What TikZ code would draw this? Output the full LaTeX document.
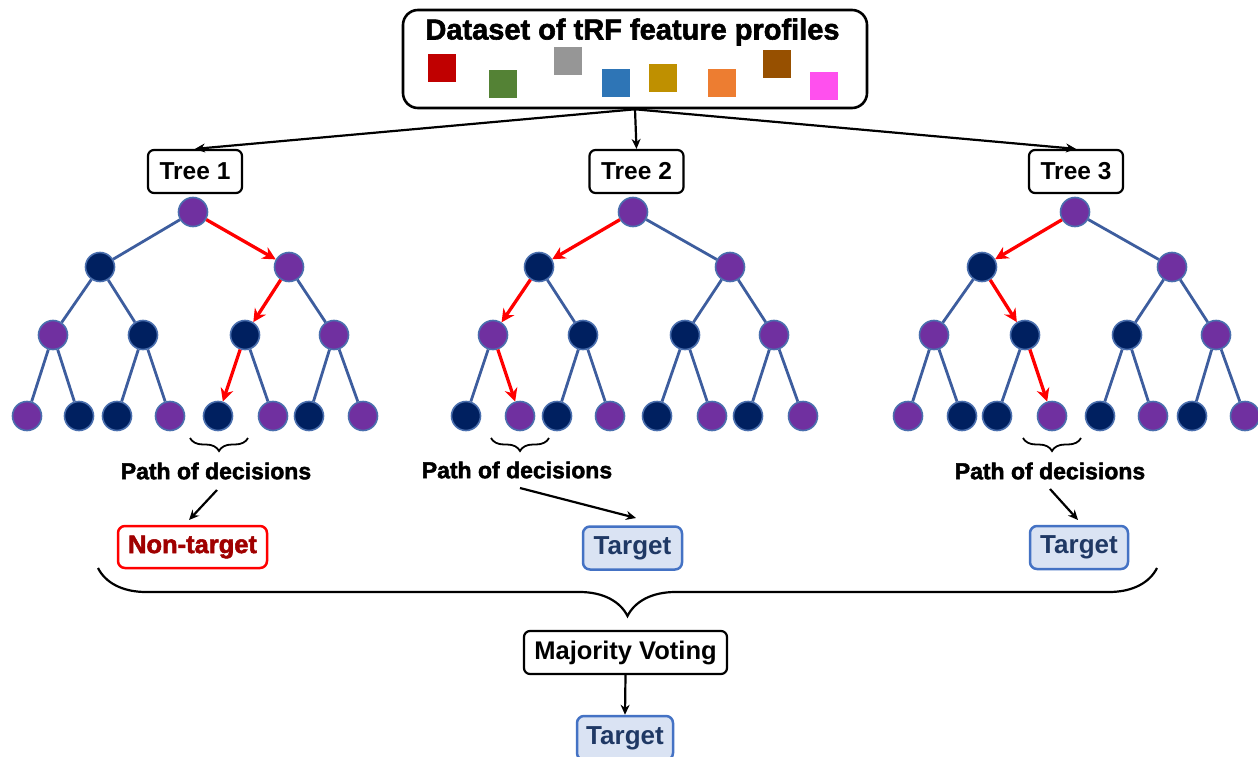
\documentclass[tikz,border=0pt]{standalone}
\usepackage{fontspec}
\setmainfont{Liberation Sans}
\newfontfamily\heavyfont[FakeBold=2]{Liberation Sans Bold}
\newfontfamily\midfont[FakeBold=1]{Liberation Sans Bold}
\usetikzlibrary{arrows.meta,decorations.pathreplacing}
\definecolor{purp}{HTML}{7030A0}
\definecolor{navyc}{HTML}{002060}
\definecolor{edgeb}{HTML}{3D5D9E}
\definecolor{nodeb}{HTML}{4A6FAE}
\definecolor{sqred}{HTML}{C00000}
\definecolor{sqgreen}{HTML}{548235}
\definecolor{sqgray}{HTML}{969696}
\definecolor{sqblue}{HTML}{2E75B6}
\definecolor{sqgold}{HTML}{BF9000}
\definecolor{sqorange}{HTML}{ED7D31}
\definecolor{sqbrown}{HTML}{975000}
\definecolor{sqpink}{HTML}{FF50EE}
\definecolor{tgfill}{HTML}{DAE3F3}
\definecolor{tgdraw}{HTML}{4472C4}
\definecolor{tgtext}{HTML}{1F3864}
\definecolor{ntext}{HTML}{A00000}
\tikzset{
  tn/.style={circle, inner sep=0pt, minimum size=29pt, draw=nodeb, line width=1.6pt},
  pu/.style={tn, fill=purp},
  nv/.style={tn, fill=navyc},
  te/.style={draw=edgeb, line width=2.8pt},
  re/.style={draw=red, line width=3.3pt, -{Stealth[length=13pt,width=13pt]}},
  ar/.style={draw=black, line width=2.2pt, -{Stealth[length=10pt,width=9pt]}},
  treebox/.style={draw=black, line width=2.2pt, rounded corners=6pt, fill=white, inner sep=0pt,
     minimum width=94pt, minimum height=43pt, font=\fontsize{24.5}{27}\selectfont\bfseries},
  tgbox/.style={draw=tgdraw, line width=2.5pt, rounded corners=7pt, fill=tgfill, inner sep=0pt,
     minimum height=43pt, text=tgtext, font=\fontsize{26}{29}\selectfont\bfseries},
  ntbox/.style={draw=red, line width=2.5pt, rounded corners=7pt, fill=white, inner sep=0pt,
     minimum height=42pt, text=ntext, font=\fontsize{25.5}{28}\selectfont\heavyfont},
  pathlbl/.style={inner sep=0pt, font=\fontsize{23}{26}\selectfont\heavyfont},
  smallbrace/.style={draw=black, line width=1.8pt, decorate, decoration={brace, mirror, amplitude=13pt}},
  bigbrace/.style={draw=black, line width=2.2pt, decorate, decoration={brace, mirror, amplitude=48pt}},
  sq/.style={minimum size=28pt, inner sep=0pt}
}
\begin{document}
\begin{tikzpicture}[x=1pt,y=-1pt]
\clip (0,0) rectangle (1258,757);
\fill[white] (0,0) rectangle (1258,757);

% dataset box
\node[draw=black, line width=2.6pt, rounded corners=15pt, fill=white, minimum width=464pt, minimum height=98pt, inner sep=0pt] (data) at (635,59) {};
\node[inner sep=0pt, font=\fontsize{29}{32}\selectfont\heavyfont] (title) at (632.5,32) {Dataset of tRF feature profiles};
\node[sq, fill=sqred]    (s1) at (442,68) {};
\node[sq, fill=sqgreen]  (s2) at (503,84.5) {};
\node[sq, fill=sqgray]   (s3) at (568,61.5) {};
\node[sq, fill=sqblue]   (s4) at (615.5,83.5) {};
\node[sq, fill=sqgold]   (s5) at (663,78) {};
\node[sq, fill=sqorange] (s6) at (721.5,83) {};
\node[sq, fill=sqbrown]  (s7) at (777,64) {};
\node[sq, fill=sqpink]   (s8) at (824,86.5) {};

% tree labels
\node[treebox] (tl1) at (195,171.5) {Tree 1};
\node[treebox] (tl2) at (636.5,171.5) {Tree 2};
\node[treebox] (tl3) at (1076,171.5) {Tree 3};
\draw[ar] (data.south) -- (tl1.north);
\draw[ar] (data.south) -- (tl2.north);
\draw[ar] (data.south) -- (tl3.north);

% Tree 1
\node[pu] (t1r) at (193,212) {};
\node[nv] (t1a) at (100,267) {};
\node[pu] (t1b) at (289,267) {};
\node[pu] (t1c) at (53,335) {};
\node[nv] (t1d) at (143,335) {};
\node[nv] (t1e) at (245,335) {};
\node[pu] (t1f) at (334,335) {};
\node[pu] (t1l1) at (27,416) {};
\node[nv] (t1l2) at (79,416) {};
\node[nv] (t1l3) at (117,416) {};
\node[pu] (t1l4) at (170,416) {};
\node[nv] (t1l5) at (218,416) {};
\node[pu] (t1l6) at (273,416) {};
\node[nv] (t1l7) at (309,416) {};
\node[pu] (t1l8) at (363,416) {};
\foreach \p/\c in {r/a, a/c, a/d, b/f, c/l1, c/l2, d/l3, d/l4, e/l6, f/l7, f/l8}
  \draw[te] (t1\p) -- (t1\c);
\draw[re] (t1r) -- (t1b);
\draw[re] (t1b) -- (t1e);
\draw[re] (t1e) -- (t1l5);

% Tree 2
\node[pu] (t2r) at (633,212) {};
\node[nv] (t2a) at (539,267) {};
\node[pu] (t2b) at (730,267) {};
\node[pu] (t2c) at (493,335) {};
\node[nv] (t2d) at (583,335) {};
\node[nv] (t2e) at (685,335) {};
\node[pu] (t2f) at (774,335) {};
\node[nv] (t2l1) at (466,416) {};
\node[pu] (t2l2) at (520,416) {};
\node[nv] (t2l3) at (557,416) {};
\node[pu] (t2l4) at (610,416) {};
\node[nv] (t2l5) at (657,416) {};
\node[pu] (t2l6) at (712,416) {};
\node[nv] (t2l7) at (748,416) {};
\node[pu] (t2l8) at (803,416) {};
\foreach \p/\c in {r/b, a/d, b/e, b/f, c/l1, d/l3, d/l4, e/l5, e/l6, f/l7, f/l8}
  \draw[te] (t2\p) -- (t2\c);
\draw[re] (t2r) -- (t2a);
\draw[re] (t2a) -- (t2c);
\draw[re] (t2c) -- (t2l2);

% Tree 3
\node[pu] (t3r) at (1075,212) {};
\node[nv] (t3a) at (982,267) {};
\node[pu] (t3b) at (1172,267) {};
\node[pu] (t3c) at (934,335) {};
\node[nv] (t3d) at (1025,335) {};
\node[nv] (t3e) at (1127,335) {};
\node[pu] (t3f) at (1216,335) {};
\node[pu] (t3l1) at (908,416) {};
\node[nv] (t3l2) at (962,416) {};
\node[nv] (t3l3) at (997,416) {};
\node[pu] (t3l4) at (1052,416) {};
\node[nv] (t3l5) at (1100,416) {};
\node[pu] (t3l6) at (1153,416) {};
\node[nv] (t3l7) at (1192,416) {};
\node[pu] (t3l8) at (1245,416) {};
\foreach \p/\c in {r/b, a/c, b/e, b/f, c/l1, c/l2, d/l3, e/l5, e/l6, f/l7, f/l8}
  \draw[te] (t3\p) -- (t3\c);
\draw[re] (t3r) -- (t3a);
\draw[re] (t3a) -- (t3d);
\draw[re] (t3d) -- (t3l4);

% small braces
\draw[smallbrace] (190,438) -- (248,438);
\draw[smallbrace] (491,438) -- (549,438);
\draw[smallbrace] (1023,438) -- (1081,438);

% path labels
\node[pathlbl] (p1) at (216,471) {Path of decisions};
\node[pathlbl] (p2) at (517,470) {Path of decisions};
\node[pathlbl] (p3) at (1050,471) {Path of decisions};

% outcomes
\node[ntbox, minimum width=149pt] (o1) at (192.5,547) {Non-target};
\node[tgbox, minimum width=99pt] (o2) at (632.5,548) {Target};
\node[tgbox, minimum width=98pt] (o3) at (1079,547.5) {Target};

\coordinate (a1s) at (217,490);
\coordinate (a1e) at (189,520);
\coordinate (a2s) at (520,488);
\coordinate (a2e) at (636,518);
\coordinate (a3s) at (1050,489);
\coordinate (a3e) at (1078,520);
\draw[ar] (a1s) -- (a1e);
\draw[ar] (a2s) -- (a2e);
\draw[ar] (a3s) -- (a3e);

% big brace
\draw[bigbrace] (98,568) -- (1157,568);

% majority voting
\node[treebox, minimum width=203pt, font=\fontsize{25.5}{28}\selectfont\bfseries] (mv) at (625.5,652.5) {Majority Voting};
\node[tgbox, minimum width=96pt, minimum height=44pt] (ft) at (625,738) {Target};
\draw[ar] (mv.south) -- (ft.north);
\end{tikzpicture}
\end{document}
